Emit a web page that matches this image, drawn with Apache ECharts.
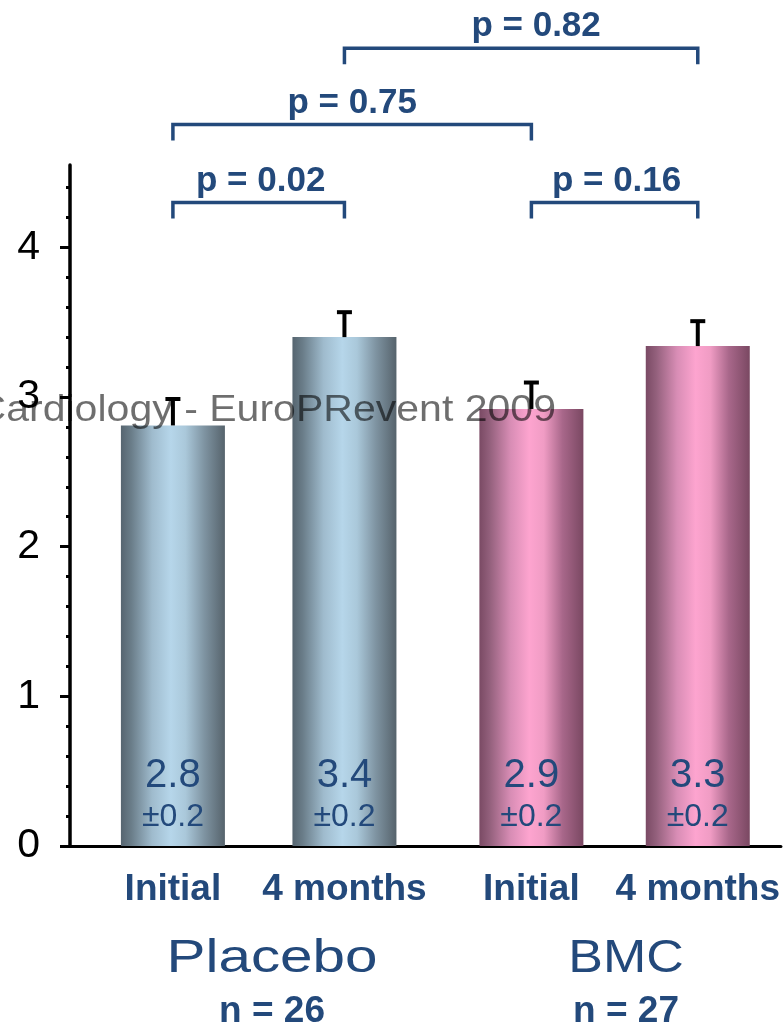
<!DOCTYPE html>
<html>
<head>
<meta charset="utf-8">
<script src="https://cdn.jsdelivr.net/npm/echarts@6/dist/echarts.min.js"></script>
<style>
html,body{margin:0;padding:0;background:#fff;}
#chart{width:783px;height:1027px;}
</style>
</head>
<body>
<div id="chart"></div>
<script>
// ---- data ----
const categories = ['Initial', '4 months', 'Initial', '4 months'];
const xPos = [0.6, 1.6, 2.69, 3.66];
const means = [2.81, 3.40, 2.92, 3.34];
const upper = [3.00, 3.58, 3.11, 3.52];
const sdText = ['\u00b10.2', '\u00b10.2', '\u00b10.2', '\u00b10.2'];
const groupIndex = [0, 0, 1, 1];
const groups = ['Placebo', 'BMC'];
const groupN = ['n = 26', 'n = 27'];
const yTicks = [0, 1, 2, 3, 4];
const yMinorTicks = [0.2, 0.4, 0.6, 0.8, 1.2, 1.4, 1.6, 1.8, 2.2, 2.4, 2.6, 2.8, 3.2, 3.4, 3.6, 3.8, 4.2, 4.4];
const bracketFrom = [0, 2, 0, 1];
const bracketTo = [1, 3, 2, 3];
const bracketLevel = [4.30, 4.30, 4.82, 5.33];
const bracketText = ['p = 0.02', 'p = 0.16', 'p = 0.75', 'p = 0.82'];
const watermark = 'Cardiology - EuroPRevent 2009';

// ---- styles / layout ----
const FONT = '"Liberation Sans", Arial, sans-serif';
const BLUE_TEXT = '#23497b';
const bracketTextShift = [2, 2, 0, 15];
const groupCenters = [272, 626];
const gradients = [
  new echarts.graphic.LinearGradient(0, 0, 1, 0, [
    {offset: 0, color: '#566570'}, {offset: 0.1, color: '#6a7d89'},
    {offset: 0.3, color: '#9fbbcd'}, {offset: 0.48, color: '#b6d6ea'},
    {offset: 0.62, color: '#aac8da'}, {offset: 0.8, color: '#7f94a2'},
    {offset: 1, color: '#56636c'}
  ]),
  new echarts.graphic.LinearGradient(0, 0, 1, 0, [
    {offset: 0, color: '#7a4a64'}, {offset: 0.1, color: '#93607c'},
    {offset: 0.3, color: '#d88db5'}, {offset: 0.48, color: '#fda4cf'},
    {offset: 0.62, color: '#f09cc4'}, {offset: 0.8, color: '#a8678a'},
    {offset: 1, color: '#7a4862'}
  ])
];

const chart = echarts.init(document.getElementById('chart'), null, {renderer: 'canvas'});

const option = {
  animation: false,
  backgroundColor: '#ffffff',
  grid: {left: 70, right: 0, top: 165, bottom: 181, containLabel: false},
  xAxis: {
    type: 'value', min: 0, max: 4.145,
    axisLine: {show: true, onZero: false, lineStyle: {color: '#000', width: 3}},
    axisTick: {show: false},
    splitLine: {show: false},
    axisLabel: {
      show: true, customValues: xPos, margin: 25,
      formatter: v => { const i = xPos.indexOf(v); return i >= 0 ? categories[i] : ''; },
      fontFamily: FONT, fontSize: 37, fontWeight: 'bold', color: BLUE_TEXT
    }
  },
  yAxis: [
    {
      type: 'value', min: 0, max: 4.55, position: 'left',
      axisLine: {show: true, lineStyle: {color: '#000', width: 3.5}},
      axisTick: {show: true, customValues: yTicks, length: 10, lineStyle: {color: '#000', width: 3}},
      axisLabel: {show: true, customValues: yTicks, margin: 30, fontFamily: FONT, fontSize: 41, color: '#000'},
      splitLine: {show: false}
    },
    {
      type: 'value', min: 0, max: 4.55, position: 'left',
      axisLine: {show: false},
      axisTick: {show: true, customValues: yMinorTicks, length: 4, lineStyle: {color: '#000', width: 3}},
      axisLabel: {show: false},
      splitLine: {show: false}
    }
  ],
  series: [
    {
      type: 'bar', z: 2, barWidth: 104,
      data: xPos.map((x, i) => ({value: [x, means[i]], itemStyle: {color: gradients[groupIndex[i]]}})),
      label: {
        show: true, position: 'insideBottom', distance: 9,
        formatter: p => '{a|' + means[p.dataIndex].toFixed(1) + '}\n{b|' + sdText[p.dataIndex] + '}',
        rich: {
          a: {fontFamily: FONT, fontSize: 40, color: BLUE_TEXT, lineHeight: 42},
          b: {fontFamily: FONT, fontSize: 32, color: BLUE_TEXT, lineHeight: 40}
        }
      }
    },
    {
      type: 'custom', z: 10, clip: false,
      data: xPos.map((x, i) => [x, means[i], upper[i]]),
      encode: {x: 0, y: [1, 2]},
      renderItem: (params, api) => {
        const p0 = api.coord([api.value(0), api.value(1)]);
        const p1 = api.coord([api.value(0), api.value(2)]);
        return {
          type: 'group',
          children: [
            {type: 'line', shape: {x1: p0[0], y1: p0[1], x2: p1[0], y2: p1[1] + 2}, style: {stroke: '#000', lineWidth: 4}},
            {type: 'line', shape: {x1: p1[0] - 7.5, y1: p1[1] + 2, x2: p1[0] + 7.5, y2: p1[1] + 2}, style: {stroke: '#000', lineWidth: 4}}
          ]
        };
      }
    },
    {
      type: 'custom', z: 10, clip: false,
      data: bracketFrom.map((f, i) => [xPos[f], xPos[bracketTo[i]], bracketLevel[i]]),
      encode: {x: [0, 1], y: 2},
      renderItem: (params, api) => {
        const a = api.coord([api.value(0), api.value(2)]);
        const b = api.coord([api.value(1), api.value(2)]);
        const y = a[1];
        return {
          type: 'group',
          children: [
            {type: 'polyline', shape: {points: [[a[0], y + 16], [a[0], y], [b[0], y], [b[0], y + 16]]},
             style: {stroke: BLUE_TEXT, lineWidth: 3.5, fill: null}},
            {type: 'text', style: {text: bracketText[params.dataIndex], x: (a[0] + b[0]) / 2 + bracketTextShift[params.dataIndex], y: y - 4,
              align: 'center', verticalAlign: 'bottom', fontFamily: FONT, fontSize: 35, fontWeight: 'bold', fill: BLUE_TEXT}}
          ]
        };
      }
    }
  ],
  graphic: [
    {type: 'text', z: 5, x: 556, y: 411, scaleX: 1.14,
     style: {text: watermark, fontFamily: FONT, fontSize: 36, fill: 'rgba(0,0,0,0.57)', align: 'right', verticalAlign: 'middle'}},
    {type: 'text', z: 5, x: groupCenters[0], y: 959, scaleX: 1.27,
     style: {text: groups[0], fontFamily: FONT, fontSize: 46, fill: BLUE_TEXT, align: 'center', verticalAlign: 'middle'}},
    {type: 'text', z: 5, x: groupCenters[1], y: 959, scaleX: 1.13,
     style: {text: groups[1], fontFamily: FONT, fontSize: 46, fill: BLUE_TEXT, align: 'center', verticalAlign: 'middle'}},
    {type: 'text', z: 5, x: groupCenters[0], y: 1012,
     style: {text: groupN[0], fontFamily: FONT, fontSize: 37, fontWeight: 'bold', fill: BLUE_TEXT, align: 'center', verticalAlign: 'middle'}},
    {type: 'text', z: 5, x: groupCenters[1], y: 1012,
     style: {text: groupN[1], fontFamily: FONT, fontSize: 37, fontWeight: 'bold', fill: BLUE_TEXT, align: 'center', verticalAlign: 'middle'}}
  ]
};
chart.setOption(option);
</script>
</body>
</html>
